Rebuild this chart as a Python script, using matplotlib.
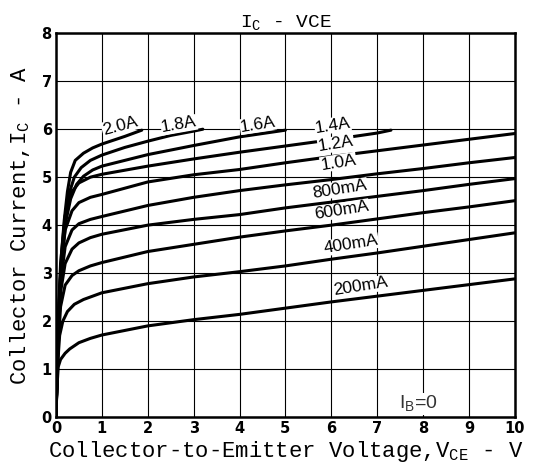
import matplotlib
matplotlib.use("Agg")
import matplotlib.pyplot as plt

# Ic - Vce family of curves
vce_200 = [0, 0.02, 0.05, 0.1, 0.2, 0.3, 0.5, 0.75, 1, 2, 3, 4, 5, 6, 7, 8, 9, 10]
ic_200 = [0, 0.6, 1.05, 1.2, 1.33, 1.42, 1.55, 1.64, 1.71, 1.9, 2.03, 2.14, 2.27, 2.4, 2.52, 2.64, 2.76, 2.88]

vce_400 = [0, 0.03, 0.08, 0.15, 0.25, 0.4, 0.6, 1, 2, 3, 4, 5, 6, 7, 8, 9, 10]
ic_400 = [0, 1.0, 1.7, 2.0, 2.2, 2.35, 2.45, 2.59, 2.78, 2.92, 3.03, 3.15, 3.29, 3.42, 3.56, 3.7, 3.84]

vce_600 = [0, 0.05, 0.1, 0.2, 0.35, 0.5, 0.75, 1, 2, 3, 4, 5, 6, 7, 8, 9, 10]
ic_600 = [0, 1.5, 2.3, 2.75, 2.95, 3.05, 3.15, 3.22, 3.45, 3.6, 3.75, 3.88, 4.0, 4.13, 4.26, 4.38, 4.51]

vce_800 = [0, 0.05, 0.1, 0.2, 0.35, 0.5, 0.75, 1, 2, 3, 4, 5, 6, 7, 8, 9, 10]
ic_800 = [0, 1.7, 2.6, 3.2, 3.5, 3.63, 3.74, 3.81, 4.0, 4.12, 4.22, 4.36, 4.48, 4.6, 4.72, 4.85, 4.97]

vce_1000 = [0, 0.05, 0.1, 0.2, 0.35, 0.5, 0.75, 1, 2, 3, 4, 5, 6, 7, 8, 9, 10]
ic_1000 = [0, 1.8, 2.8, 3.55, 3.9, 4.03, 4.12, 4.18, 4.41, 4.58, 4.72, 4.84, 4.95, 5.07, 5.18, 5.3, 5.41]

vce_1200 = [0, 0.05, 0.1, 0.2, 0.35, 0.5, 0.75, 1, 2, 3, 4, 5, 6, 7, 8, 9, 10]
ic_1200 = [0, 1.9, 3.0, 3.9, 4.3, 4.47, 4.58, 4.64, 4.9, 5.05, 5.16, 5.3, 5.43, 5.55, 5.67, 5.79, 5.91]

vce_1400 = [0, 0.05, 0.1, 0.2, 0.35, 0.5, 0.75, 1, 2, 3, 4, 5, 6, 7, 7.3]
ic_1400 = [0, 2.0, 3.2, 4.2, 4.7, 4.88, 5.0, 5.06, 5.23, 5.38, 5.52, 5.65, 5.78, 5.92, 5.98]

vce_1600 = [0, 0.04, 0.08, 0.14, 0.22, 0.32, 0.45, 0.6, 0.8, 1, 2, 3, 4, 5]
ic_1600 = [0, 1.5, 2.5, 3.4, 4.1, 4.55, 4.85, 5.02, 5.15, 5.23, 5.47, 5.66, 5.84, 5.98]

vce_1800 = [0, 0.04, 0.08, 0.13, 0.2, 0.3, 0.4, 0.55, 0.75, 1, 1.5, 2, 2.5, 3, 3.2]
ic_1800 = [0, 1.5, 2.6, 3.4, 4.15, 4.7, 5.0, 5.2, 5.35, 5.46, 5.62, 5.75, 5.87, 5.96, 6.0]

vce_2000 = [0, 0.04, 0.08, 0.12, 0.18, 0.25, 0.32, 0.42, 0.6, 0.8, 1, 1.5, 1.87]
ic_2000 = [0, 1.5, 2.6, 3.4, 4.1, 4.7, 5.1, 5.35, 5.5, 5.61, 5.69, 5.85, 5.98]

curves = [(vce_200, ic_200), (vce_400, ic_400), (vce_600, ic_600), (vce_800, ic_800),
          (vce_1000, ic_1000), (vce_1200, ic_1200), (vce_1400, ic_1400),
          (vce_1600, ic_1600), (vce_1800, ic_1800), (vce_2000, ic_2000)]

ib_labels = ["200mA", "400mA", "600mA", "800mA", "1.0A", "1.2A", "1.4A", "1.6A", "1.8A", "2.0A"]
label_x = [6.64, 6.43, 6.23, 6.19, 6.15, 6.1, 6.03, 4.4, 2.68, 1.39]
label_y = [2.72, 3.6, 4.31, 4.75, 5.31, 5.69, 6.08, 6.1, 6.09, 6.07]
label_rot = [9, 9, 9, 9, 9, 9, 9, 9, 10, 15]

fig = plt.figure(figsize=(5.33, 4.75), dpi=100)
ax = fig.add_axes([0.105, 0.122, 0.861, 0.808])

for v, i in curves:
    ax.plot(v, i, color="black", lw=2.2, solid_capstyle="round", zorder=3)

for txt, x, y, r in zip(ib_labels, label_x, label_y, label_rot):
    ax.text(x, y, txt, rotation=r, ha="center", va="center", fontsize=12.5,
            family="Liberation Sans", zorder=4,
            bbox=dict(facecolor="white", edgecolor="none", pad=0.3))

ax.text(7.9, 0.27, "I$_\\mathregular{B}$=0", ha="center", va="center", fontsize=14,
        family="Liberation Sans", color="#333333", zorder=4,
        bbox=dict(facecolor="white", edgecolor="none", pad=0.5))

ax.set_xlim(0, 10)
ax.set_ylim(0, 8)
ax.set_xticks(range(0, 11))
ax.set_yticks(range(0, 9))
ax.grid(True, color="black", lw=0.8, zorder=1)
ax.set_axisbelow(True)
ax.tick_params(length=0, pad=3, labelsize=10.5)
for lab in ax.get_xticklabels() + ax.get_yticklabels():
    lab.set_fontweight("bold")
for sp in ax.spines.values():
    sp.set_linewidth(1.8)

mono = "Liberation Mono"
ax.set_title("I$_\\mathregular{C}$ - VCE", family=mono, fontsize=14, pad=4)
ax.set_xlabel("Collector-to-Emitter Voltage,V$_\\mathregular{CE}$ - V", family=mono, fontsize=16, labelpad=2)
ax.set_ylabel("Collector Current,I$_\\mathregular{C}$ - A", family=mono, fontsize=16, labelpad=7)

fig.savefig("out.png", dpi=100)
